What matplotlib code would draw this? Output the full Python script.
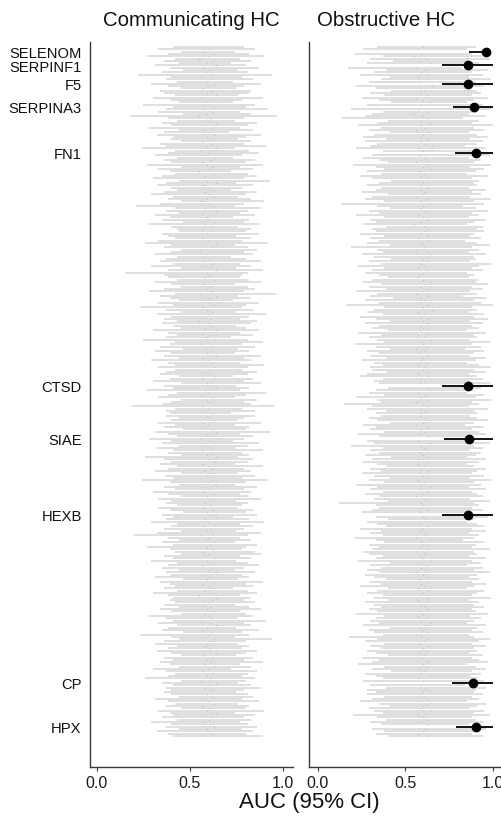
import numpy as np
import matplotlib.pyplot as plt

plt.rcParams['font.family'] = ['Liberation Sans', 'DejaVu Sans']

# AUC x100 for every protein (row order top -> bottom), communicating HC
comm_auc = """
58 61 57 63 60 55 62 59 64 57 60 58 62 56 61 59 63 60 57 62
59 64 56 61 58 60 63 57 62 59 55 61 60 64 58 62 57 60 63 59
61 57 62 59 64 56 60 58 63 61 57 59 62 60 55 63 58 61 59 64
57 60 62 58 61 63 59 56 60 62 58 64 57 61 59 60 63 58 62 57
62 59 61 57 60 64 58 62 56 61 59 63 60 57 62 58 61 64 59 60
58 63 60 57 61 59 62 56 64 60 58 61 63 57 59 62 60 58 61 55
60 62 58 64 57 61 59 63 60 56 62 58 61 59 64 57 60 62 58 63
61 58 60 63 57 62 59 61 64 58 60 56 62 59 61 63 57 60 58 62
59 61 63 57 60 58 62 64 59 61 56 60 63 58 62 57 61 59 64 60
63 57 60 62 58 61 59 56 62 60 64 58 61 57 63 59 60 62 58 61
57 62 59 61 64 58 60 63 57 61 59 62 56 60 58 63 61 59 62 57
60 58 63 59 61 57 62 60 64 58 61 59 63 57 60 62 58 61 55 64
62 60 57 61 59 63 58 60 62 56 61 64 59 57 62 60 58 63 61 59
58 61 60 64 57 62 59 61 58 63 60 57 62 59 61 56 64 60 58 62
61 59 62 58 60 63 57 61 59 64 58 62 60 57 61 63 59 60 62 58
"""
comm_lo = """
41 33 45 38 27 42 36 44 31 39 46 35 22 40 37 43 29 38 45 34
36 42 30 39 44 25 41 37 33 46 18 38 43 35 40 28 44 36 32 41
39 45 34 37 24 42 38 31 43 36 40 27 45 33 39 42 35 30 44 37
32 40 43 36 29 41 38 45 34 21 42 37 44 31 39 35 46 28 40 43
44 35 38 42 33 26 40 36 45 39 31 43 37 34 41 29 45 38 15 36
38 43 31 40 45 36 28 42 34 39 44 33 41 23 37 45 32 40 36 43
35 41 45 30 38 43 37 25 42 39 34 46 31 40 36 44 29 38 42 33
42 37 34 44 39 30 45 36 41 27 43 38 33 45 40 35 19 42 37 39
37 44 40 33 42 36 46 31 38 43 28 40 35 44 32 41 38 45 26 36
40 34 43 38 31 45 37 41 24 39 44 36 42 30 38 45 33 40 37 43
33 39 46 35 41 37 29 43 40 36 45 32 20 38 44 35 41 27 39 42
45 36 41 29 43 38 35 44 37 40 31 46 34 39 42 36 43 30 38 41
39 42 36 44 34 40 45 28 37 41 33 43 38 35 46 23 40 44 36 31
43 38 32 40 45 36 41 34 39 44 30 37 42 38 26 45 35 41 37 40
36 40 44 31 38 42 37 45 33 39 41 35 43 29 40 37 44 32 38 41
"""
comm_hi = """
79 85 74 82 90 77 83 72 80 87 76 81 94 78 84 73 88 79 75 83
82 76 89 78 73 85 80 92 77 83 97 79 74 86 81 77 84 71 88 80
76 83 79 91 74 82 87 78 73 85 80 89 77 84 72 81 86 79 93 75
84 78 72 86 80 76 83 90 79 74 88 81 77 85 73 82 79 87 76 83
80 87 75 83 78 92 74 81 86 79 84 72 80 88 77 83 75 89 81 78
77 82 88 74 81 85 79 96 76 83 73 87 80 78 84 75 91 82 77 86
83 75 80 87 77 84 72 81 89 78 85 76 82 74 88 79 83 77 90 81
78 86 81 73 84 79 88 75 82 77 91 80 74 86 79 83 95 78 85 72
85 79 76 88 74 82 80 93 77 84 79 73 87 81 75 89 78 82 76 84
81 74 89 79 83 76 85 78 92 80 74 86 79 83 77 82 88 75 81 78
76 84 80 86 73 82 90 77 84 79 75 88 81 77 83 74 86 80 78 85
88 77 83 75 81 87 79 74 85 78 82 76 89 80 84 73 81 86 77 83
79 85 74 82 88 77 80 84 76 91 79 83 75 87 78 82 74 94 80 76
82 78 86 80 75 84 79 89 77 83 72 86 81 78 85 80 76 83 88 79
75 81 84 78 87 76 82 80 90 74 85 79 83 77 81 86 78 84 80 89
"""

# obstructive HC
obst_auc = """
60 57 63 59 55 62 58 64 60 56 61 59 63 57 62 58 60 65 59 61
58 62 56 60 64 59 61 57 63 55 60 62 58 64 59 61 56 63 60 58
62 59 61 65 57 60 63 58 61 59 56 62 60 64 58 61 59 63 57 60
59 63 58 61 60 56 62 59 64 60 58 61 63 57 60 62 59 55 61 63
61 58 62 57 63 60 59 61 56 62 64 58 60 63 59 61 57 62 60 58
57 60 64 61 58 62 60 56 63 59 61 58 62 60 65 57 61 59 63 60
63 59 60 58 62 57 61 64 59 60 62 56 61 58 63 60 59 62 57 61
60 62 57 63 59 61 58 60 62 64 57 61 59 63 56 60 62 58 61 59
58 61 63 60 56 62 59 61 58 63 60 57 64 59 61 62 58 60 63 57
62 57 61 59 63 58 60 62 57 61 59 64 58 62 60 56 61 63 59 60
59 63 58 62 60 61 57 59 63 60 58 62 61 56 64 59 60 58 62 61
61 58 60 64 57 62 59 61 56 60 63 58 62 59 61 57 63 60 58 62
57 62 59 61 63 58 60 57 62 59 64 61 58 60 62 56 59 63 61 58
63 60 62 58 61 59 57 63 60 62 58 61 59 64 57 60 62 59 61 63
60 58 61 63 59 62 60 58 64 61 57 60 63 59 62 58 61 60 57 62
"""
obst_lo = """
34 26 40 21 37 30 43 28 35 17 39 32 24 41 36 29 38 22 33 42
30 38 25 35 42 28 33 19 37 31 27 14 40 34 23 36 29 41 32 26
39 27 34 30 22 37 43 31 26 35 40 20 33 38 28 36 24 31 42 35
28 36 33 25 40 31 27 38 13 34 41 29 35 22 38 30 33 26 39 31
33 24 38 30 35 28 41 19 34 37 25 32 42 29 36 23 38 31 27 35
40 31 26 36 29 39 22 34 30 43 27 35 16 38 32 28 37 24 33 41
27 35 31 40 23 36 29 34 38 21 33 41 28 35 30 39 25 32 37 30
31 39 28 24 37 32 35 27 40 33 29 38 22 34 36 15 31 28 39 33
36 29 34 41 26 33 30 38 23 35 40 28 32 19 37 30 35 27 42 31
26 34 39 30 36 25 32 41 29 38 22 34 30 37 27 35 32 40 12 33
35 31 25 38 33 40 28 34 39 24 36 30 37 21 33 38 29 35 31 26
29 37 33 23 41 30 36 28 35 27 32 39 30 36 24 40 34 28 37 32
40 27 32 36 29 34 22 38 33 30 35 26 41 29 32 37 18 34 27 38
30 36 28 33 40 25 35 31 23 38 31 42 27 33 37 26 35 30 39 28
33 28 38 31 24 35 41 29 32 37 20 34 39 30 36 27 31 38 33 40
"""
obst_hi = """
90 85 96 88 93 98 86 92 89 82 97 88 94 86 99 90 87 95 84 91
93 88 97 89 85 94 91 99 90 86 96 83 92 88 100 89 95 86 91 97
87 94 90 84 96 91 88 98 86 93 89 99 87 95 90 85 97 88 92 89
91 86 96 88 93 87 99 89 95 83 90 97 88 92 86 96 89 85 94 91
95 89 87 93 84 91 98 88 92 86 96 89 90 87 99 92 88 94 85 89
86 92 90 97 88 94 87 91 83 96 89 93 100 88 91 86 95 89 97 87
94 88 92 85 96 89 91 87 98 88 93 84 95 89 87 96 90 85 92 99
89 96 86 91 94 87 98 88 93 89 85 95 90 99 88 92 86 97 89 91
87 91 97 89 84 95 88 92 96 86 90 88 98 89 94 87 93 90 85 96
92 85 89 96 91 88 95 87 99 89 93 86 96 88 91 94 87 98 89 92
88 94 87 92 97 89 85 91 95 88 96 86 92 89 83 95 90 88 98 89
91 87 96 88 93 85 94 89 98 91 86 92 88 96 89 85 95 91 88 99
86 92 89 95 88 90 97 87 93 89 85 96 91 88 94 86 89 98 92 88
96 89 91 86 94 88 92 97 85 90 96 88 93 87 91 95 89 84 96 90
89 94 88 92 85 96 91 87 95 89 98 88 90 94 86 92 96 89 88 94
"""

# highlighted proteins (obstructive HC)
hl_names = ['SELENOM', 'SERPINF1', 'F5', 'SERPINA3', 'FN1',
            'CTSD', 'SIAE', 'HEXB', 'CP', 'HPX']
hl_rows = [2, 8, 16, 26, 46, 147, 170, 203, 276, 295]
hl_auc = [0.96, 0.855, 0.855, 0.89, 0.90, 0.855, 0.865, 0.855, 0.885, 0.90]
hl_lo = [0.86, 0.71, 0.71, 0.77, 0.78, 0.71, 0.72, 0.71, 0.765, 0.79]
hl_hi = [0.99, 1.0, 1.0, 1.0, 1.0, 1.0, 1.0, 1.0, 1.0, 1.0]


def parse(s):
    return np.array(s.split(), dtype=float) / 100


comm_auc, comm_lo, comm_hi = parse(comm_auc), parse(comm_lo), parse(comm_hi)
obst_auc, obst_lo, obst_hi = parse(obst_auc), parse(obst_lo), parse(obst_hi)
n = len(comm_auc)
rows = np.arange(n)

W, H = 502, 820
fig = plt.figure(figsize=(W / 100, H / 100), dpi=100)
ax1 = fig.add_axes([90 / W, 52 / H, 203 / W, 725 / H])
ax2 = fig.add_axes([309 / W, 52 / H, 193 / W, 725 / H])

grey = '#dfdfdf'
dotc = '#c2c2c2'

ax1.hlines(rows, comm_lo, comm_hi, color=grey, lw=1.4, zorder=1)
ax1.plot(comm_auc, rows, 'o', color=dotc, ms=1.0, mew=0, zorder=2)

keep = np.ones(n, dtype=bool)
keep[hl_rows] = False
ax2.hlines(rows[keep], obst_lo[keep], obst_hi[keep], color=grey, lw=1.4, zorder=1)
ax2.plot(obst_auc[keep], rows[keep], 'o', color=dotc, ms=1.0, mew=0, zorder=2)
ax2.hlines(hl_rows, hl_lo, hl_hi, color='black', lw=1.3, zorder=3)
ax2.plot(hl_auc, hl_rows, 'o', color='black', ms=6, zorder=4)

for ax, xl in ((ax1, (-0.0376, 1.054)), (ax2, (-0.051, 1.051))):
    ax.set_xlim(*xl)
    ax.set_ylim((768 - 48) / 2.304, -5 / 2.304)
    for s in ('top', 'right'):
        ax.spines[s].set_visible(False)
    for s in ('left', 'bottom'):
        ax.spines[s].set_color('#3a3a3a')
        ax.spines[s].set_linewidth(1.0)
    ax.set_xticks([0, 0.5, 1.0])
    ax.set_xticklabels(['0.0', '0.5', '1.0'])
    ax.tick_params(axis='x', length=3, width=0.8, color='#3a3a3a',
                   labelsize=11.5, labelcolor='#1a1a1a', pad=3)
    ax.tick_params(axis='y', length=0)

ax1.set_yticks(hl_rows)
ax1.set_yticklabels(hl_names, fontsize=10.6, color='#111111')
ax1.tick_params(axis='y', pad=6)
ax2.set_yticks([])

fig.text(191 / W, 1 - 20 / H, 'Communicating HC', ha='center', va='center',
         fontsize=14.7, color='#111111')
fig.text(386 / W, 1 - 20 / H, 'Obstructive HC', ha='center', va='center',
         fontsize=14.7, color='#111111')
fig.text(309 / W, 1 - 803 / H, 'AUC (95% CI)', ha='center', va='center',
         fontsize=16, color='#111111')

fig.savefig('out.png', dpi=100)
